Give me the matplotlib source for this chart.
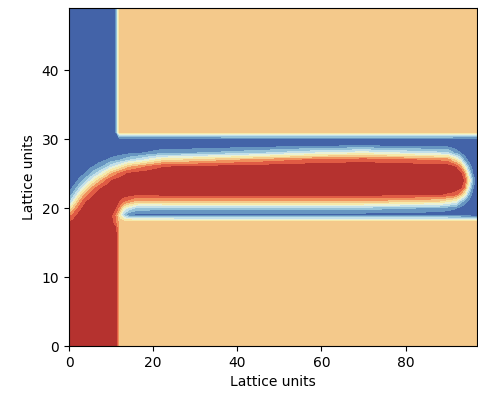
import numpy as np
import matplotlib
matplotlib.use("Agg")
import matplotlib.pyplot as plt
from matplotlib.path import Path
from matplotlib.colors import ListedColormap

# Lattice size and walls (lattice units)
nx, ny = 98, 50
wall_x = 12          # first solid column right of the vertical channel
wall_y_low = 18      # last solid row of the lower block
wall_y_high = 31     # first solid row of the upper block
solid_value = 0.3

# Interface thickness: more diffuse near the junction
width_x = [0, 6, 14, 25, 97]
width_w = [1.7, 1.7, 1.2, 1.05, 1.05]

# Liquid region outline (phi = 0)
interface_x = [-5, 16, 16, 11.8, 13.0, 16, 40, 70, 88, 92, 94.3, 95.2,
               94.5, 92.8, 90, 70, 60, 45, 22, 14, 10, 6, 3, 1, 0, -5]
interface_y = [-5, -5, 17, 18.6, 20.1, 20.6, 20.6, 20.6, 20.8, 21.1, 22.1, 23.8,
               25.5, 26.9, 27.6, 27.9, 27.8, 27.5, 27.1, 26.4, 25.6, 24.1, 22.4, 20.6, 19.9, 19.6]

levels = np.linspace(-1, 1, 11)

# Build the phase field on the lattice
X, Y = np.meshgrid(np.arange(nx), np.arange(ny))
pts = np.column_stack([X.ravel(), Y.ravel()]).astype(float)
verts = np.column_stack([interface_x, interface_y])
a = verts
b = np.roll(verts, -1, axis=0)
ab = b - a
dist = np.full(len(pts), np.inf)
for i in range(len(a)):
    ap = pts - a[i]
    t = np.clip((ap @ ab[i]) / (ab[i] @ ab[i]), 0, 1)
    proj = a[i] + t[:, None] * ab[i]
    dist = np.minimum(dist, np.hypot(*(pts - proj).T))
inside = Path(verts).contains_points(pts)
signed = np.where(inside, dist, -dist).reshape(ny, nx)
w = np.interp(X, width_x, width_w)
phi = np.clip(np.tanh(signed / w), -0.999, 0.999)

solid = (X >= wall_x) & ((Y >= wall_y_high) | (Y <= wall_y_low))
phi[solid] = solid_value

# RdYlBu_r bins, toned down a little like the original
base = plt.get_cmap('RdYlBu_r')((np.arange(10) + 0.5) / 10)[:, :3]
colors = 0.88 * base + 0.12 * np.array([0.72, 0.72, 0.72])
colors[0] = np.array([67, 99, 168]) / 255
colors[6] = np.array([244, 201, 139]) / 255
colors[9] = np.array([181, 50, 47]) / 255
cmap = ListedColormap(colors)

fig = plt.figure(figsize=(4.78, 3.99), dpi=100)
ax = fig.add_axes([0.1444, 0.1328, 0.8536, 0.8471])
ax.contourf(X, Y, phi, levels=levels, cmap=cmap)
ax.set_xticks([0, 20, 40, 60, 80])
ax.set_yticks([0, 10, 20, 30, 40])
ax.set_xlabel('Lattice units')
ax.set_ylabel('Lattice units')
fig.savefig('out.png', dpi=100)
